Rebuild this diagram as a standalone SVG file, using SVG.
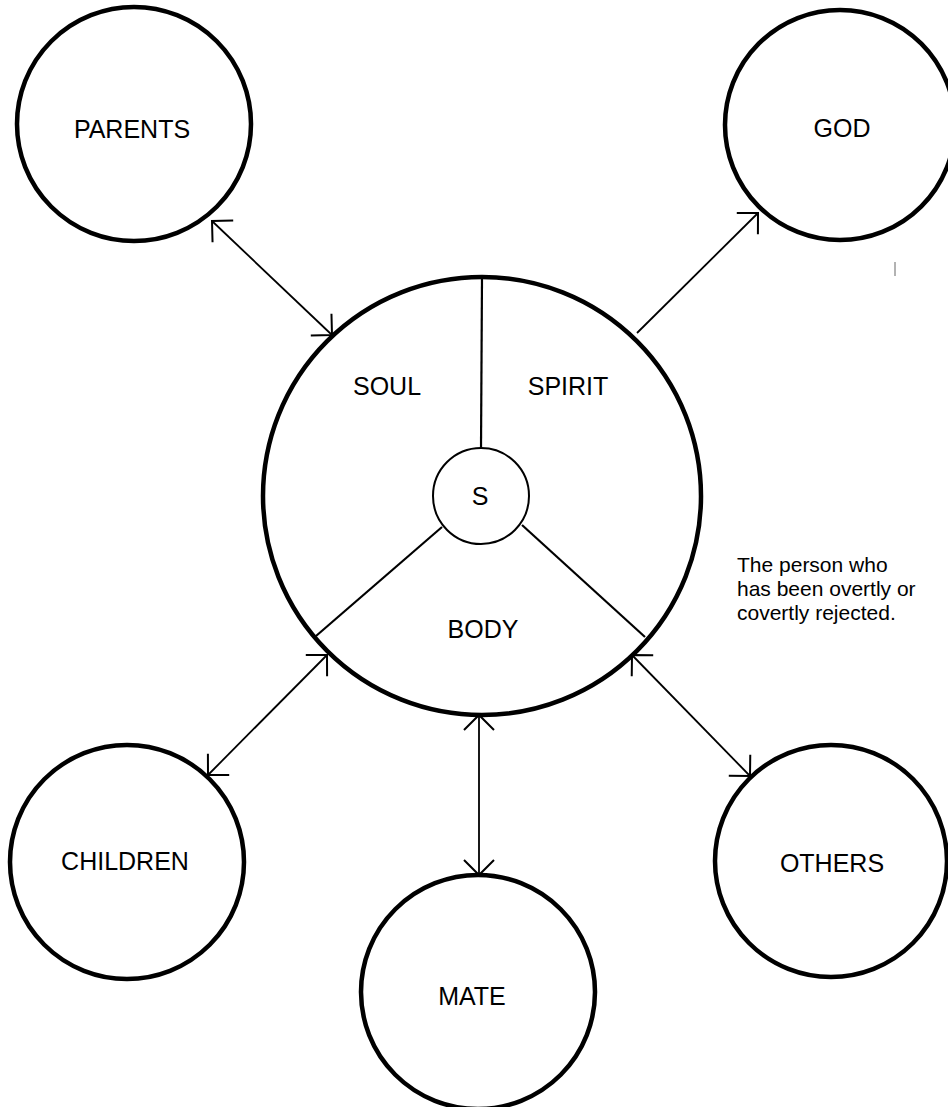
<svg xmlns="http://www.w3.org/2000/svg" width="948" height="1107" viewBox="0 0 948 1107">
<style>
.node{fill:#fff;stroke:#000;stroke-width:4.5}
.lbl{font-family:"Liberation Sans",Arial,sans-serif;font-size:25px;fill:#000;text-anchor:middle}
.note{font-family:"Liberation Sans",Arial,sans-serif;font-size:21px;fill:#000}
.spoke{stroke:#000;stroke-width:2.2;fill:none}
.conn{stroke:#000;stroke-width:1.8;fill:none}
</style>
<defs>
<marker id="arr" markerUnits="userSpaceOnUse" viewBox="-20 -20 40 40" markerWidth="40" markerHeight="40" refX="0" refY="0" orient="auto-start-reverse" overflow="visible">
<path d="M-15,-15 L0,0 L-15,15" fill="none" stroke="#000" stroke-width="2"/>
</marker>
</defs>
<rect width="948" height="1107" fill="#fff"/>
<g id="connectors">
<line class="conn" x1="212" y1="221" x2="332" y2="335" marker-start="url(#arr)" marker-end="url(#arr)"/>
<line class="conn" x1="637" y1="333" x2="758" y2="213" marker-end="url(#arr)"/>
<line class="conn" x1="327" y1="655" x2="208" y2="775" marker-start="url(#arr)" marker-end="url(#arr)"/>
<line class="conn" x1="479" y1="715" x2="479" y2="875" stroke-width="2.4" marker-start="url(#arr)" marker-end="url(#arr)"/>
<line class="conn" x1="632" y1="655" x2="750" y2="776" marker-start="url(#arr)" marker-end="url(#arr)"/>
</g>
<g id="parents"><circle class="node" cx="134" cy="124" r="117"/><text class="lbl" x="132" y="138">PARENTS</text></g>
<g id="god"><circle class="node" cx="840" cy="125" r="115"/><text class="lbl" x="842" y="137">GOD</text></g>
<g id="children"><circle class="node" cx="127" cy="862" r="117"/><text class="lbl" x="125" y="870">CHILDREN</text></g>
<g id="mate"><circle class="node" cx="478" cy="992" r="117"/><text class="lbl" x="472" y="1005">MATE</text></g>
<g id="others"><circle class="node" cx="831" cy="861" r="116"/><text class="lbl" x="832" y="872">OTHERS</text></g>
<g id="person">
<circle class="node" cx="482" cy="496" r="219"/>
<line class="spoke" x1="482" y1="277" x2="481" y2="448" stroke-width="2.6"/>
<line class="spoke" x1="442" y1="527" x2="316" y2="636"/>
<line class="spoke" x1="522" y1="525" x2="645" y2="637"/>
<circle cx="481" cy="496" r="48" fill="#fff" stroke="#000" stroke-width="2"/>
<text class="lbl" x="387" y="395">SOUL</text>
<text class="lbl" x="568" y="395">SPIRIT</text>
<text class="lbl" x="483" y="638">BODY</text>
<text class="lbl" x="480" y="505">S</text>
</g>
<g id="caption">
<text class="note" x="737" y="572">The person who</text>
<text class="note" x="737" y="596">has been overtly or</text>
<text class="note" x="737" y="620">covertly rejected.</text>
</g>
<line x1="895" y1="262" x2="895" y2="276" stroke="#666" stroke-width="1"/>
</svg>
